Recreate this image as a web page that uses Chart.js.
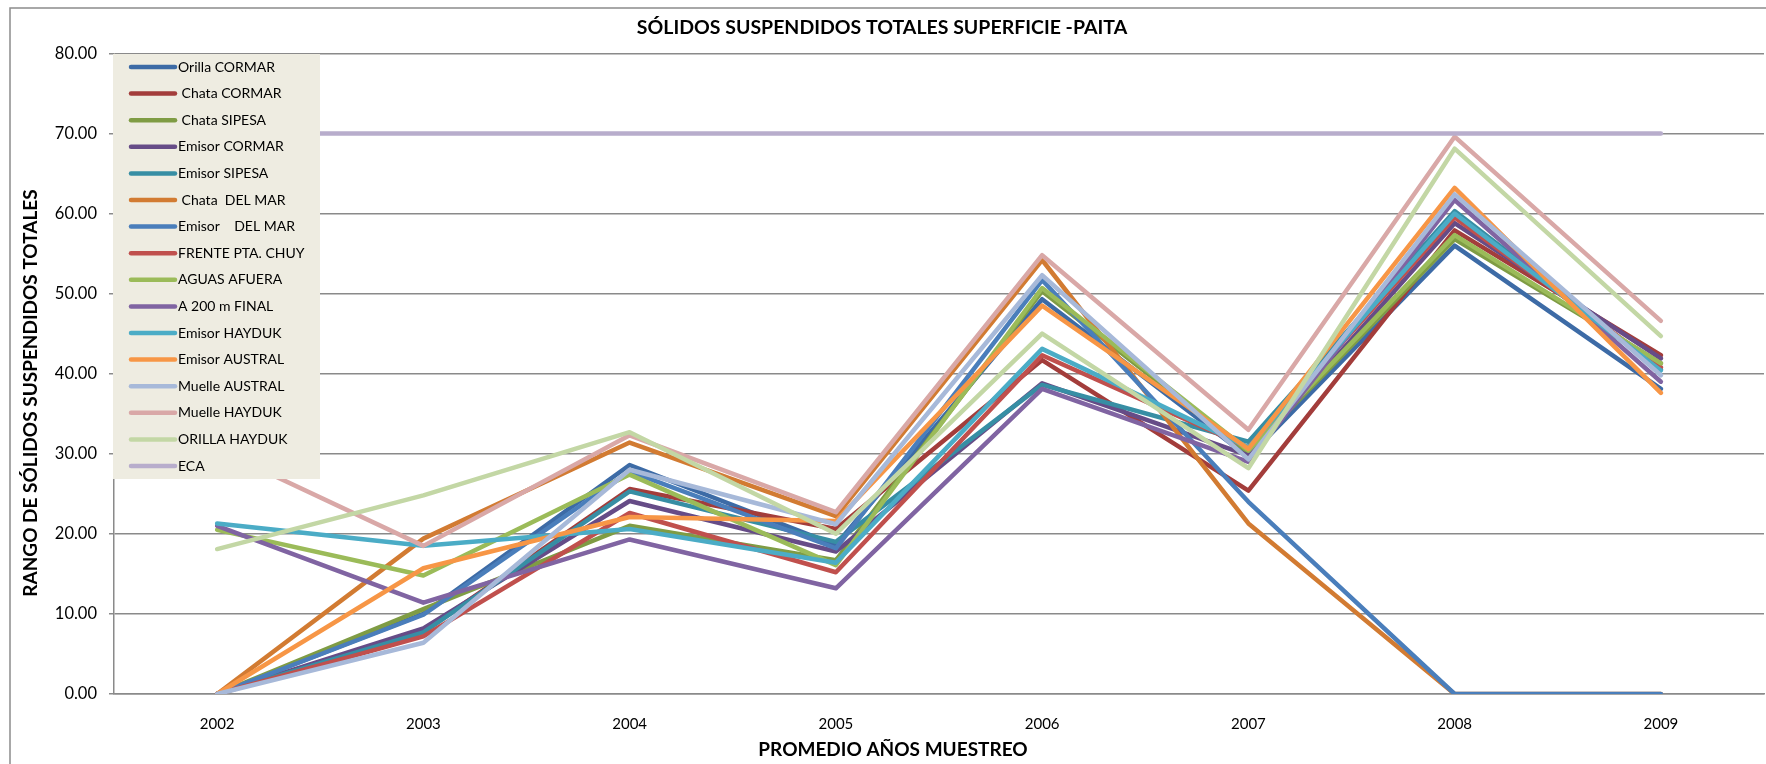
<!DOCTYPE html>
<html>
<head>
<meta charset="utf-8">
<script src="https://cdn.jsdelivr.net/npm/chart.js@4.4.1/dist/chart.umd.min.js"></script>
<style>
  html, body { margin: 0; padding: 0; background: #fff; }
  #wrap { width: 1766px; height: 764px; }
</style>
</head>
<body>
<div id="wrap"><canvas id="sstChart" width="1766" height="764"></canvas></div>
<script>
// años de muestreo
const years = ['2002', '2003', '2004', '2005', '2006', '2007', '2008', '2009'];

// promedios por estación (mg/L)
const orillaCormar   = [0, 10.0, 28.6, 18.6, 49.3, 29.6, 56.0, 38.1];
const chataCormar    = [0, 7.8, 25.6, 20.6, 41.7, 25.4, 57.9, 42.3];
const chataSipesa    = [0, 10.6, 21.0, 16.7, 50.3, 30.2, 56.8, 41.3];
const emisorCormar   = [0, 8.2, 24.1, 17.8, 38.8, 29.8, 58.8, 41.9];
const emisorSipesa   = [0, 7.7, 25.3, 19.0, 38.6, 31.5, 60.3, 40.5];
const chataDelMar    = [0, 19.4, 31.4, 22.2, 54.2, 21.3, 0, 0];
const emisorDelMar   = [0, 9.9, 27.8, 18.2, 51.7, 24.0, 0, 0];
const frentePtaChuy  = [0, 7.2, 22.6, 15.2, 42.3, 30.8, 59.5, 40.8];
const aguasAfuera    = [20.5, 14.8, 27.4, 16.1, 50.7, 30.4, 57.3, 41.3];
const a200mFinal     = [21.0, 11.4, 19.3, 13.2, 38.1, 29.0, 61.7, 39.0];
const emisorHayduk   = [21.3, 18.5, 20.6, 16.4, 43.1, 30.8, 60.0, 40.4];
const emisorAustral  = [0, 15.7, 22.1, 21.6, 48.5, 30.6, 63.2, 37.6];
const muelleAustral  = [0, 6.4, 28.0, 21.2, 52.3, 29.3, 62.4, 39.8];
const muelleHayduk   = [30.6, 18.5, 32.3, 22.7, 54.8, 33.0, 69.6, 46.6];
const orillaHayduk   = [18.1, 24.8, 32.7, 20.0, 45.0, 28.2, 68.1, 44.7];
const eca            = [70, 70, 70, 70, 70, 70, 70, 70];

const yTicks = [0, 10, 20, 30, 40, 50, 60, 70, 80];

const series = [
    { label: 'Orilla CORMAR',     data: orillaCormar,  color: '#3d6ba6' },
    { label: ' Chata CORMAR',     data: chataCormar,   color: '#a33d3b' },
    { label: ' Chata SIPESA',     data: chataSipesa,   color: '#7f9c44' },
    { label: 'Emisor CORMAR',     data: emisorCormar,  color: '#664c87' },
    { label: 'Emisor SIPESA',     data: emisorSipesa,  color: '#378ea4' },
    { label: ' Chata  DEL MAR',   data: chataDelMar,   color: '#d27b32' },
    { label: 'Emisor    DEL MAR', data: emisorDelMar,  color: '#4a7ebb' },
    { label: 'FRENTE PTA. CHUY',  data: frentePtaChuy, color: '#c0504d' },
    { label: 'AGUAS AFUERA',      data: aguasAfuera,   color: '#9bbb59' },
    { label: 'A 200 m FINAL',     data: a200mFinal,    color: '#8064a2' },
    { label: 'Emisor HAYDUK',     data: emisorHayduk,  color: '#4bacc6' },
    { label: 'Emisor AUSTRAL',    data: emisorAustral, color: '#f79646' },
    { label: 'Muelle AUSTRAL',    data: muelleAustral, color: '#a7b9d9' },
    { label: 'Muelle HAYDUK',     data: muelleHayduk,  color: '#d9a8a7' },
    { label: 'ORILLA HAYDUK',     data: orillaHayduk,  color: '#c3d7a5' },
    { label: 'ECA',               data: eca,           color: '#b8adcc' }
];

const FONT = 'Lato, "Open Sans", sans-serif';
const GRID = '#8a8a8a';

// marco exterior del gráfico
const framePlugin = {
    id: 'frame',
    beforeDraw(chart) {
        const ctx = chart.ctx;
        ctx.save();
        ctx.fillStyle = '#fff';
        ctx.fillRect(0, 0, chart.width, chart.height);
        ctx.strokeStyle = '#8c8c8c';
        ctx.lineWidth = 1.5;
        ctx.strokeRect(10, 8, chart.width + 20, chart.height + 20);
        ctx.restore();
    }
};

// leyenda dentro del área de trazado, como en Excel
const boxLegend = {
    id: 'boxLegend',
    afterDatasetsDraw(chart) {
        const ctx = chart.ctx;
        const x0 = 113, y0 = 54, w = 207, h = 425;
        ctx.save();
        ctx.fillStyle = '#eeece1';
        ctx.fillRect(x0, y0, w, h);
        const step = 26.6;
        ctx.font = '14px ' + FONT;
        ctx.textBaseline = 'middle';
        ctx.textAlign = 'left';
        chart.data.datasets.forEach((ds, i) => {
            const y = y0 + 13 + i * step;
            ctx.strokeStyle = ds.borderColor;
            ctx.lineWidth = 4.5;
            ctx.lineCap = 'round';
            ctx.beginPath();
            ctx.moveTo(131, y);
            ctx.lineTo(175, y);
            ctx.stroke();
            ctx.fillStyle = '#000';
            ctx.fillText(ds.label, 178, y);
        });
        ctx.restore();
    }
};

// títulos de ejes (posición como en el original de Excel)
const axisTitles = {
    id: 'axisTitles',
    afterDraw(chart) {
        const ctx = chart.ctx;
        ctx.save();
        ctx.fillStyle = '#000';
        ctx.textAlign = 'center';
        ctx.textBaseline = 'middle';
        ctx.font = 'bold 19px ' + FONT;
        ctx.fillText('PROMEDIO AÑOS MUESTREO', 893, 750);
        ctx.translate(31, 393);
        ctx.rotate(-Math.PI / 2);
        ctx.font = 'bold 19px ' + FONT;
        ctx.fillText('RANGO DE SÓLIDOS SUSPENDIDOS TOTALES', 0, 0);
        ctx.restore();
    }
};

const datasets = series.map((s, i) => ({
    label: s.label,
    data: s.data,
    borderColor: s.color,
    backgroundColor: s.color,
    borderWidth: 4.5,
    pointRadius: 0,
    tension: 0,
    borderJoinStyle: 'round',
    borderCapStyle: 'round',
    order: series.length - i
}));

new Chart(document.getElementById('sstChart'), {
    type: 'line',
    data: { labels: years, datasets: datasets },
    plugins: [framePlugin, boxLegend, axisTitles],
    options: {
        responsive: false,
        animation: false,
        layout: { padding: { top: 0, left: 0, right: 2, bottom: 0 } },
        plugins: {
            legend: { display: false },
            tooltip: { enabled: false },
            title: {
                display: true,
                text: 'SÓLIDOS SUSPENDIDOS TOTALES SUPERFICIE -PAITA',
                color: '#000',
                font: { family: FONT, size: 19.5, weight: 'bold' },
                padding: { top: 16, bottom: 14 }
            }
        },
        scales: {
            x: {
                offset: true,
                grid: { display: false, drawTicks: false },
                border: { display: true, color: GRID, width: 1.5 },
                ticks: { color: '#000', padding: 21, font: { family: FONT, size: 15 } },
                afterFit: s => { s.height = 70; }
            },
            y: {
                min: 0,
                max: 80,
                afterBuildTicks: s => { s.ticks = yTicks.map(v => ({ value: v })); },
                grid: { color: GRID, lineWidth: 1.5, tickLength: 5 },
                border: { display: true, color: GRID, width: 1.5 },
                ticks: {
                    color: '#000',
                    padding: 12,
                    font: { family: FONT, size: 16.5 },
                    callback: v => v.toFixed(2)
                },
                afterFit: s => { s.width = 114; }
            }
        }
    }
});
</script>
</body>
</html>
